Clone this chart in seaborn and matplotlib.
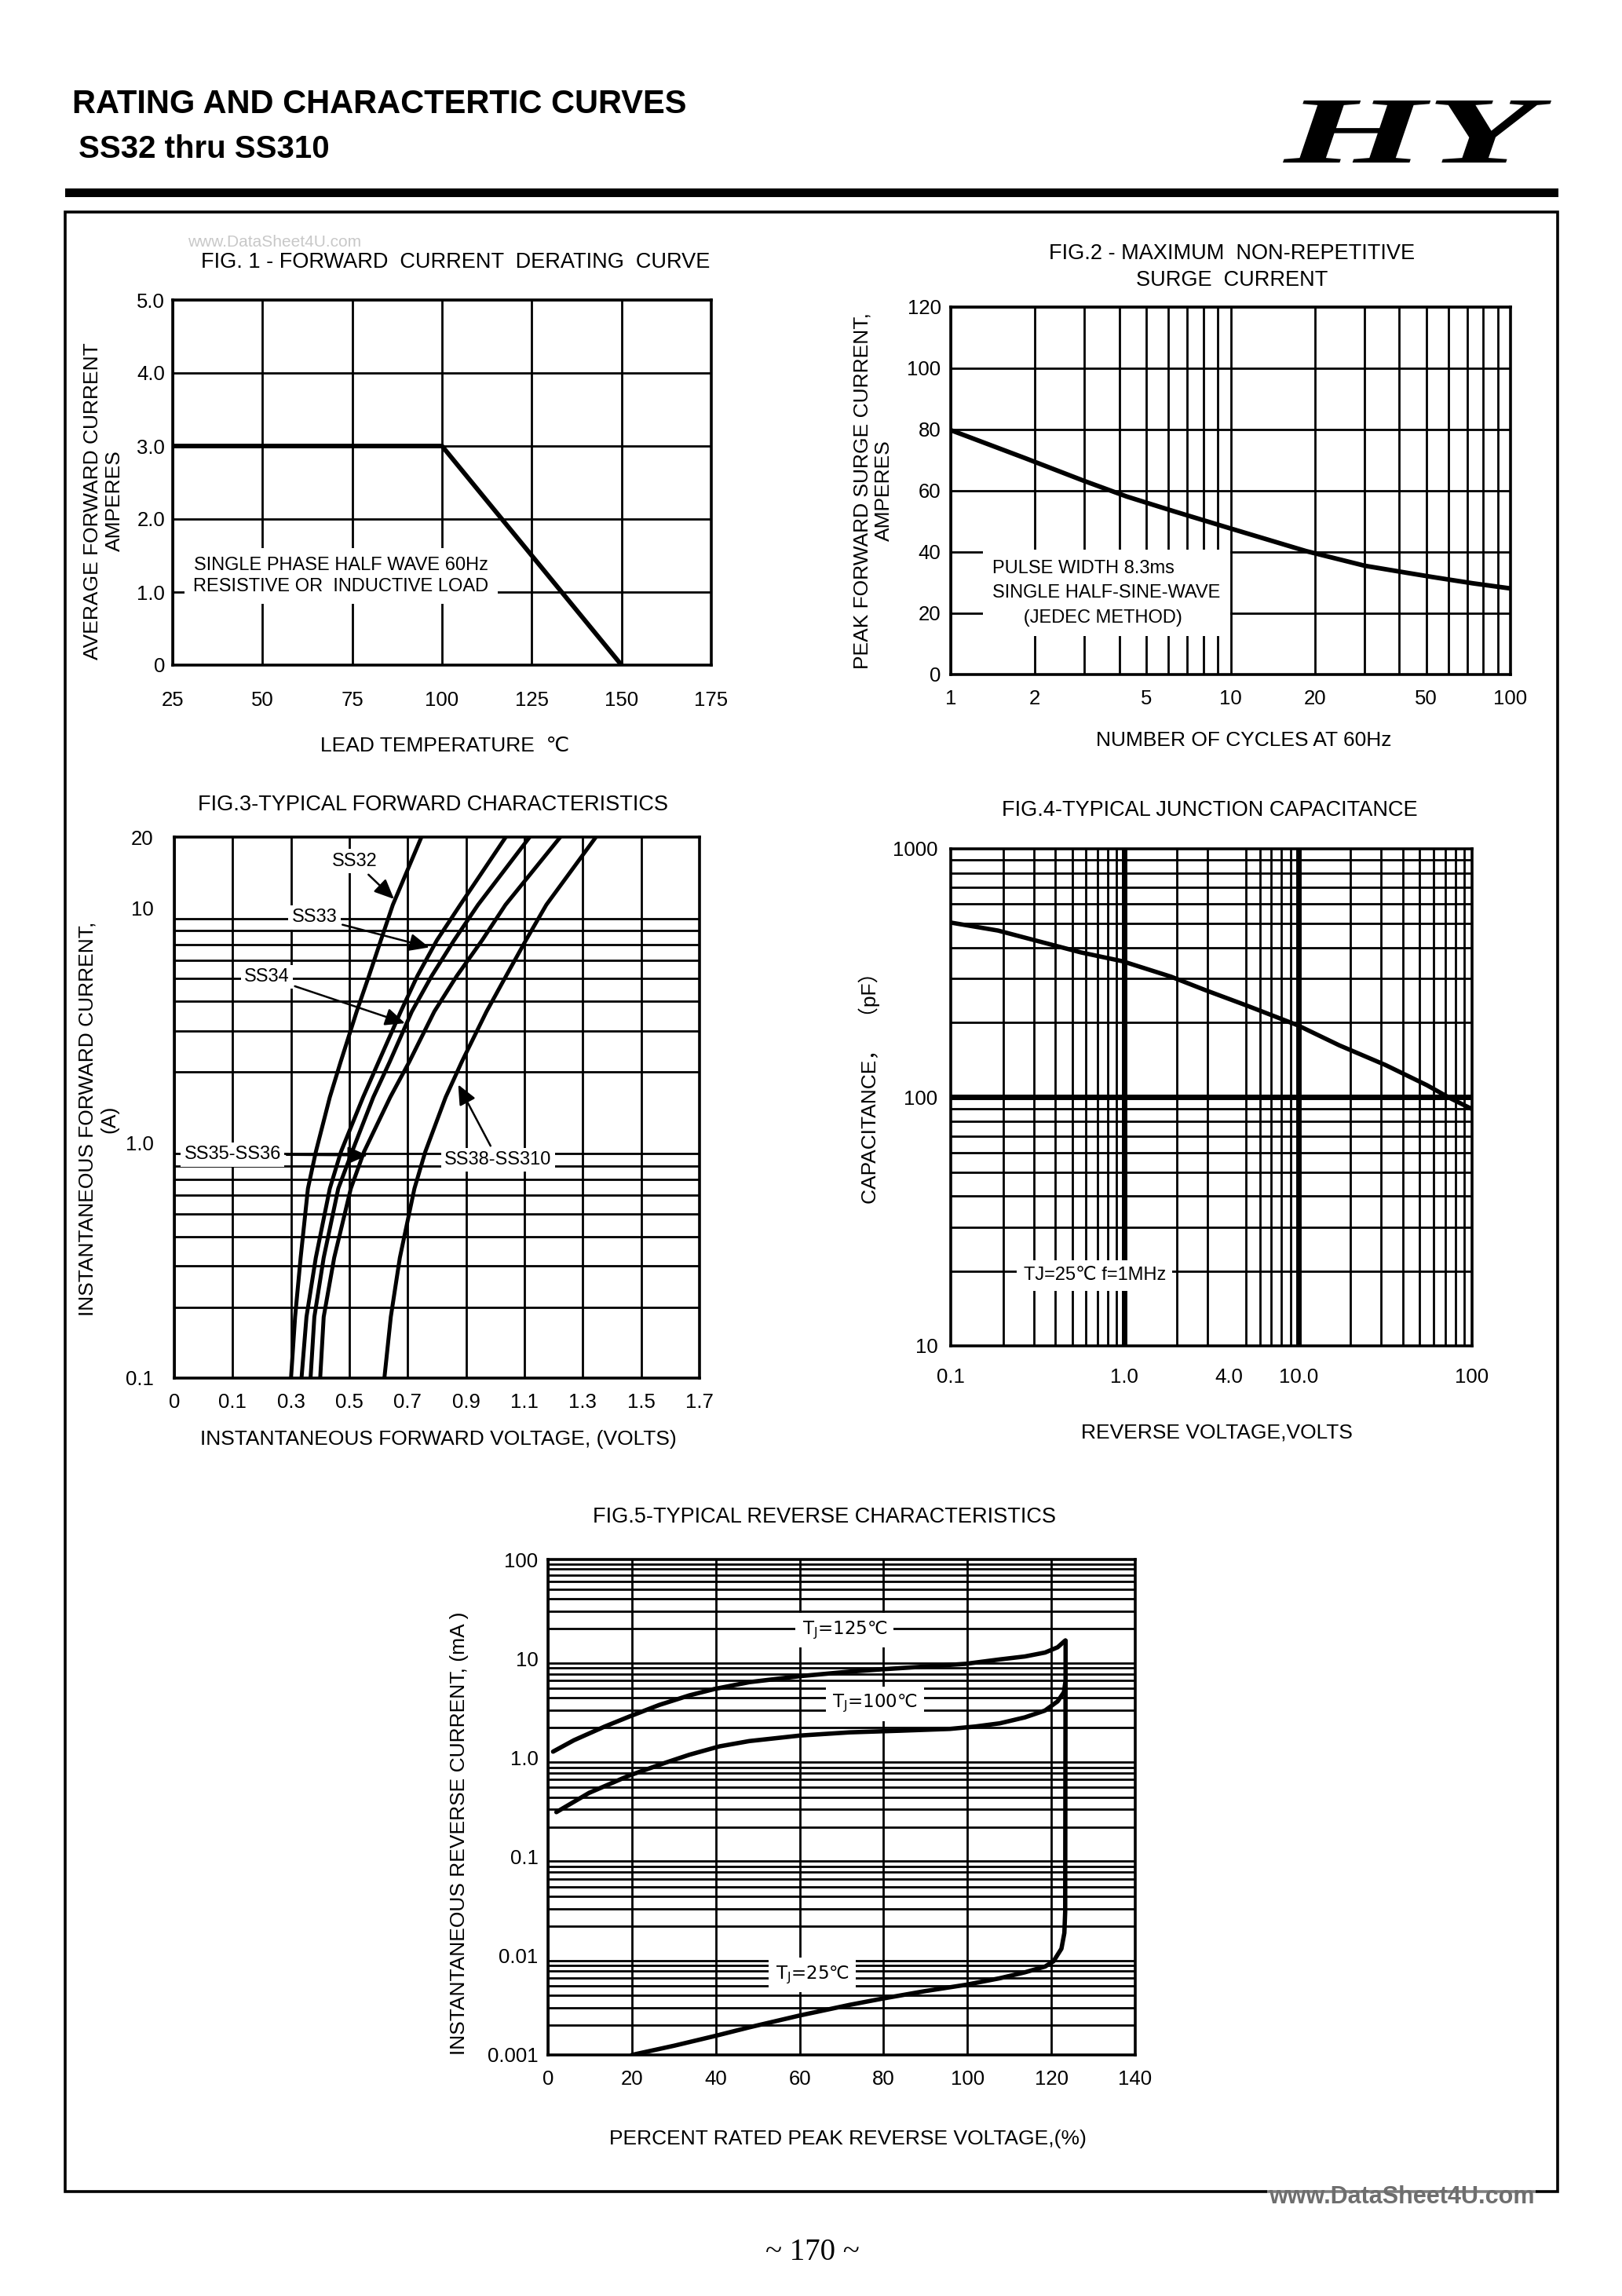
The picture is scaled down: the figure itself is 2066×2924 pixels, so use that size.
"""
Rebuild of the SS32 thru SS310 rating and characteristic curves page.
All five charts are drawn with seaborn line plots on hand-placed axes.
"""

import matplotlib
matplotlib.use("Agg")
import matplotlib.pyplot as plt
import seaborn as sns
from matplotlib import ticker
from matplotlib.patches import Rectangle, PathPatch
from matplotlib.textpath import TextPath
from matplotlib.font_manager import FontProperties
from matplotlib.transforms import Affine2D

# ---------------- values ----------------
# FIG.1 forward current derating
fig1_temp = [25, 100, 150]
fig1_amps = [3.0, 3.0, 0.0]
fig1_xticks = [25, 50, 75, 100, 125, 150, 175]
fig1_yticks = [0, 1, 2, 3, 4, 5]
fig1_ylabels = ["0", "1.0", "2.0", "3.0", "4.0", "5.0"]

# FIG.2 surge current
fig2_cycles = [1, 1.85, 3.0, 4.26, 6.27, 9.9, 18.6, 30.2, 42.7, 52.9, 73.1, 100]
fig2_amps = [79.8, 70.6, 63.2, 58.1, 53.3, 47.8, 40.3, 35.5, 33.2, 31.8, 29.8, 28.1]
fig2_xticks = [1, 2, 5, 10, 20, 50, 100]
fig2_yticks = [0, 20, 40, 60, 80, 100, 120]

# FIG.3 forward characteristics (current values shared by all curves)
fig3_current = [0.1, 0.182, 0.325, 0.64, 0.916, 1.565, 2.21, 3.62, 5.13, 7.28, 10.3, 20]
fig3_ss32 = [0.300, 0.314, 0.333, 0.358, 0.385, 0.433, 0.470, 0.525, 0.567, 0.608, 0.649, 0.747]
fig3_ss33 = [0.336, 0.353, 0.385, 0.433, 0.471, 0.547, 0.600, 0.676, 0.733, 0.800, 0.880, 1.036]
fig3_ss34 = [0.367, 0.380, 0.412, 0.462, 0.509, 0.582, 0.638, 0.714, 0.782, 0.859, 0.941, 1.118]
fig3_ss35 = [0.400, 0.412, 0.448, 0.505, 0.550, 0.640, 0.705, 0.791, 0.868, 0.955, 1.035, 1.223]
fig3_ss38 = [0.620, 0.642, 0.673, 0.723, 0.760, 0.830, 0.885, 0.970, 1.037, 1.105, 1.175, 1.345]
fig3_xtick_pos = [-0.1, 0.1, 0.3, 0.5, 0.7, 0.9, 1.1, 1.3, 1.5, 1.7]
fig3_xtick_labels = ["0", "0.1", "0.3", "0.5", "0.7", "0.9", "1.1", "1.3", "1.5", "1.7"]
fig3_yticks = [0.1, 1, 10, 20]
fig3_ylabels = ["0.1", "1.0", "10", "20"]

# FIG.4 junction capacitance
fig4_volts = [0.1, 0.187, 0.323, 0.561, 0.972, 1.85, 2.92, 5.06, 9.92, 17.2, 31.7, 54.9, 74.5, 100]
fig4_pf = [505, 469, 424, 383, 353, 306, 270, 234, 195, 162, 135, 112, 99.4, 89.7]
fig4_xticks = [0.1, 1, 4, 10, 100]
fig4_xlabels = ["0.1", "1.0", "4.0", "10.0", "100"]
fig4_yticks = [10, 100, 1000]

# FIG.5 reverse characteristics
fig5_pct_125 = [1.2, 6.2, 13.4, 19.4, 26.5, 33.7, 39.7, 48.0, 60.0, 71.9, 79.7, 89.8,
                99.6, 107.7, 113.7, 118.5, 121.5, 123.3]
fig5_ma_125 = [1.15, 1.50, 2.05, 2.60, 3.40, 4.25, 4.93, 5.78, 6.64, 7.38, 7.79, 8.30,
               8.85, 9.8, 10.5, 11.5, 13.0, 15.2]
fig5_pct_100 = [2.0, 9.8, 19.4, 27.7, 33.7, 40.9, 48.0, 60.0, 71.9, 83.9, 95.8, 101.8,
                107.7, 113.7, 118.5, 121.5, 123.0, 123.3]
fig5_ma_100 = [0.282, 0.441, 0.661, 0.880, 1.07, 1.30, 1.47, 1.67, 1.80, 1.87, 1.95, 2.06,
               2.22, 2.55, 2.99, 3.70, 4.58, 5.64]
fig5_pct_25 = [20.0, 30.1, 39.7, 48.0, 60.0, 71.9, 79.7, 89.8, 99.6, 107.7, 113.7, 118.5,
               120.5, 122.4, 123.1, 123.3, 123.4]
fig5_ma_25 = [0.001, 0.00124, 0.00155, 0.00190, 0.0025, 0.0032, 0.00370, 0.00440, 0.00510,
              0.00594, 0.00682, 0.0078, 0.0088, 0.0118, 0.017, 0.028, 15.2]
fig5_xticks = [0, 20, 40, 60, 80, 100, 120, 140]
fig5_yticks = [0.001, 0.01, 0.1, 1, 10, 100]
fig5_ylabels = ["0.001", "0.01", "0.1", "1.0", "10", "100"]

# ---------------- page setup ----------------
W, H = 2066, 2924
sns.set_theme(style="white")
plt.rcParams["font.family"] = ["Liberation Sans", "DejaVu Sans", "Noto Sans CJK SC"]
plt.rcParams["axes.edgecolor"] = "black"
plt.rcParams["text.color"] = "black"

fig = plt.figure(figsize=(W / 100, H / 100), dpi=100)
fig.patch.set_facecolor("white")

TICK_FS = 18.5
LABEL_FS = 19
NOTE_FS = 17
GRID_LW = 2.0
CURVE_LW = 4.0


def rect(l, t, r, b):
    return [l / W, 1 - b / H, (r - l) / W, (b - t) / H]


def ftext(x, y, s, **kw):
    kw.setdefault("ha", "center")
    kw.setdefault("va", "center")
    kw.setdefault("fontsize", LABEL_FS)
    return fig.text(x / W, 1 - y / H, s, **kw)


def base_style(ax):
    ax.set_axisbelow(True)
    for s in ax.spines.values():
        s.set_linewidth(2.6)
        s.set_color("black")
    ax.tick_params(which="both", length=0, labelsize=TICK_FS, colors="black")
    ax.set_xlabel("")
    ax.set_ylabel("")


def curve(ax, x, y, lw=CURVE_LW):
    sns.lineplot(x=x, y=y, ax=ax, color="black", linewidth=lw,
                 estimator=None, sort=False, legend=False, zorder=4)


white_box = dict(facecolor="white", edgecolor="none", pad=3)

# ---------------- header ----------------
ftext(92, 133, "RATING AND CHARACTERTIC CURVES", ha="left", fontsize=30, fontweight="bold")
ftext(100, 190, "SS32 thru SS310", ha="left", fontsize=29, fontweight="bold")

logo = TextPath((0, 0), "HY", size=100,
                prop=FontProperties(family="Liberation Serif", weight="bold", style="italic"))
ext = logo.get_extents()
logo_tr = (Affine2D().translate(-ext.x0, -ext.y0)
           .scale((1976 - 1634) / W / ext.width, (207 - 128) / H / ext.height)
           .translate(1634 / W, 1 - 207 / H) + fig.transFigure)
fig.patches.append(PathPatch(logo, transform=logo_tr, facecolor="black", edgecolor="none"))

fig.patches.append(Rectangle((83 / W, 1 - 251 / H), (1985 - 83) / W, 11 / H,
                             transform=fig.transFigure, facecolor="black", edgecolor="none"))
fig.patches.append(Rectangle((83 / W, 1 - 2791 / H), (1984 - 83) / W, (2791 - 270) / H,
                             transform=fig.transFigure, fill=False, edgecolor="black", linewidth=2.6))
ftext(350, 309, "www.DataSheet4U.com", fontsize=15, color="#c8c8c8")

# ---------------- FIG.1 ----------------
ax1 = fig.add_axes(rect(220, 382, 906, 847))
curve(ax1, fig1_temp, fig1_amps, lw=4.2)
ax1.set_xlim(25, 175)
ax1.set_ylim(0, 5)
ax1.set_xticks(fig1_xticks)
ax1.set_yticks(fig1_yticks, fig1_ylabels)
base_style(ax1)
ax1.tick_params(axis="x", pad=24)
ax1.tick_params(axis="y", pad=7)
ax1.grid(True, color="black", linewidth=GRID_LW)
ax1.text(71.9, 1.22, "SINGLE PHASE HALF WAVE 60Hz\nRESISTIVE OR  INDUCTIVE LOAD",
         ha="center", va="center", fontsize=NOTE_FS, multialignment="center",
         linespacing=1.3, bbox=dict(facecolor="white", edgecolor="none", pad=8), zorder=3)
ftext(580, 334, "FIG. 1 - FORWARD  CURRENT  DERATING  CURVE", fontsize=19.5)
ftext(132, 638, "AVERAGE FORWARD CURRENT\nAMPERES", rotation=90, multialignment="center")
ftext(567, 950, "LEAD TEMPERATURE  ℃")

# ---------------- FIG.2 ----------------
ax2 = fig.add_axes(rect(1211, 391, 1924, 859))
curve(ax2, fig2_cycles, fig2_amps, lw=4.2)
ax2.set_xscale("log")
ax2.set_xlim(1, 100)
ax2.set_ylim(0, 120)
ax2.set_xticks(fig2_xticks, [str(v) for v in fig2_xticks])
ax2.xaxis.set_minor_locator(ticker.LogLocator(subs=list(range(1, 10)), numticks=100))
ax2.xaxis.set_minor_formatter(ticker.NullFormatter())
ax2.set_yticks(fig2_yticks, [str(v) for v in fig2_yticks])
base_style(ax2)
ax2.tick_params(axis="x", pad=14)
ax2.tick_params(axis="y", pad=9)
ax2.grid(True, which="both", axis="x", color="black", linewidth=GRID_LW)
ax2.grid(True, which="major", axis="y", color="black", linewidth=GRID_LW)
ax2.text(1.41, 26.6, "PULSE WIDTH 8.3ms\nSINGLE HALF-SINE-WAVE\n      (JEDEC METHOD)",
         ha="left", va="center", fontsize=NOTE_FS, multialignment="left",
         linespacing=1.55, bbox=dict(facecolor="white", edgecolor="none", pad=9), zorder=3)
ftext(1569, 340, "FIG.2 - MAXIMUM  NON-REPETITIVE\nSURGE  CURRENT", fontsize=19.5,
      multialignment="center", linespacing=1.35)
ftext(1112, 625, "PEAK FORWARD SURGE CURRENT,\nAMPERES", rotation=90, multialignment="center")
ftext(1584, 943, "NUMBER OF CYCLES AT 60Hz")

# ---------------- FIG.3 ----------------
ax3 = fig.add_axes(rect(222, 1066, 891, 1755))
for volts in (fig3_ss32, fig3_ss33, fig3_ss34, fig3_ss35, fig3_ss38):
    curve(ax3, volts, fig3_current, lw=3.6)
ax3.set_yscale("log")
ax3.set_xlim(-0.1, 1.7)
ax3.set_ylim(0.1, 20)
ax3.set_xticks(fig3_xtick_pos, fig3_xtick_labels)
ax3.set_yticks(fig3_yticks, fig3_ylabels)
ax3.yaxis.set_minor_locator(ticker.LogLocator(subs=list(range(1, 10)), numticks=100))
ax3.yaxis.set_minor_formatter(ticker.NullFormatter())
base_style(ax3)
ax3.tick_params(axis="x", pad=14)
ax3.tick_params(axis="y", pad=19)
ax3.grid(True, which="major", axis="x", color="black", linewidth=GRID_LW)
ax3.grid(True, which="minor", axis="y", color="black", linewidth=GRID_LW)

arrow = dict(arrowstyle="-|>,head_length=0.9,head_width=0.4", color="black",
             linewidth=1.8, shrinkA=2, shrinkB=0)
fig3_notes = [
    ("SS32", (0.517, 15.8), (0.653, 10.9)),
    ("SS33", (0.380, 9.11), (0.774, 6.79)),
    ("SS34", (0.217, 5.09), (0.691, 3.23)),
    ("SS35-SS36", (0.100, 0.893), (0.562, 0.885)),
    ("SS38-SS310", (1.009, 0.848), (0.873, 1.77)),
]
for label, txt_xy, head_xy in fig3_notes:
    ax3.annotate(label, xy=head_xy, xytext=txt_xy, ha="center", va="center",
                 fontsize=NOTE_FS, bbox=white_box, arrowprops=arrow, zorder=5)
ftext(551, 1025, "FIG.3-TYPICAL FORWARD CHARACTERISTICS", fontsize=19.5)
ftext(125, 1425, "INSTANTANEOUS FORWARD CURRENT,\n(A)", rotation=90, multialignment="center")
ftext(558, 1833, "INSTANTANEOUS FORWARD VOLTAGE, (VOLTS)")

# ---------------- FIG.4 ----------------
ax4 = fig.add_axes(rect(1211, 1081, 1875, 1714))
curve(ax4, fig4_volts, fig4_pf, lw=4.0)
ax4.set_xscale("log")
ax4.set_yscale("log")
ax4.set_xlim(0.1, 100)
ax4.set_ylim(10, 1000)
ax4.set_xticks(fig4_xticks, fig4_xlabels)
ax4.set_yticks(fig4_yticks, [str(v) for v in fig4_yticks])
for axis in (ax4.xaxis, ax4.yaxis):
    axis.set_minor_locator(ticker.LogLocator(subs=list(range(1, 10)), numticks=100))
    axis.set_minor_formatter(ticker.NullFormatter())
base_style(ax4)
ax4.tick_params(axis="x", pad=20)
ax4.tick_params(axis="y", pad=12)
ax4.grid(True, which="minor", color="black", linewidth=GRID_LW)
for v in (1, 10):
    ax4.axvline(v, color="black", linewidth=5, zorder=0.6)
ax4.axhline(100, color="black", linewidth=5, zorder=0.6)
ax4.text(0.673, 19.2, "TJ=25℃ f=1MHz", ha="center", va="center", fontsize=NOTE_FS,
         bbox=dict(facecolor="white", edgecolor="none", pad=6), zorder=3)
ftext(1541, 1032, "FIG.4-TYPICAL JUNCTION CAPACITANCE", fontsize=19.5)
ftext(1107, 1379, "CAPACITANCE，  （pF）", rotation=90)
ftext(1550, 1825, "REVERSE VOLTAGE,VOLTS")

# ---------------- FIG.5 ----------------
ax5 = fig.add_axes(rect(698, 1986, 1446, 2617))
curve(ax5, fig5_pct_125, fig5_ma_125, lw=4.0)
curve(ax5, fig5_pct_100, fig5_ma_100, lw=4.0)
curve(ax5, fig5_pct_25, fig5_ma_25, lw=4.0)
ax5.set_yscale("log")
ax5.set_xlim(0, 140)
ax5.set_ylim(0.001, 100)
ax5.set_xticks(fig5_xticks, [str(v) for v in fig5_xticks])
ax5.set_yticks(fig5_yticks, fig5_ylabels)
ax5.yaxis.set_minor_locator(ticker.LogLocator(subs=list(range(1, 10)), numticks=100))
ax5.yaxis.set_minor_formatter(ticker.NullFormatter())
base_style(ax5)
ax5.tick_params(axis="x", pad=14)
ax5.tick_params(axis="y", pad=9)
ax5.grid(True, which="major", axis="x", color="black", linewidth=GRID_LW)
ax5.grid(True, which="minor", axis="y", color="black", linewidth=GRID_LW)
fig5_notes = [("125", 70.7, 19.2), ("100", 77.9, 3.51), ("25", 63.0, 0.0064)]
for temp, px, py in fig5_notes:
    ax5.text(px, py, r"T$_\mathregular{J}$=" + temp + "℃", ha="center", va="center",
             fontsize=16.5, family="DejaVu Sans",
             bbox=dict(facecolor="white", edgecolor="none", pad=6), zorder=3)
ftext(1050, 1932, "FIG.5-TYPICAL REVERSE CHARACTERISTICS", fontsize=19.5)
ftext(585, 2335, "INSTANTANEOUS REVERSE CURRENT, (mA )", rotation=90)
ftext(1080, 2724, "PERCENT RATED PEAK REVERSE VOLTAGE,(%)")

# ---------------- footer ----------------
ftext(1785, 2798, "www.DataSheet4U.com", fontsize=22, fontweight="bold", color="#6e6e6e",
      bbox=dict(facecolor="white", edgecolor="none", alpha=0.5, pad=1))
ftext(1035, 2868, "~ 170 ~", fontsize=28, family="Liberation Serif")

fig.savefig("out.png", dpi=100, facecolor="white")
